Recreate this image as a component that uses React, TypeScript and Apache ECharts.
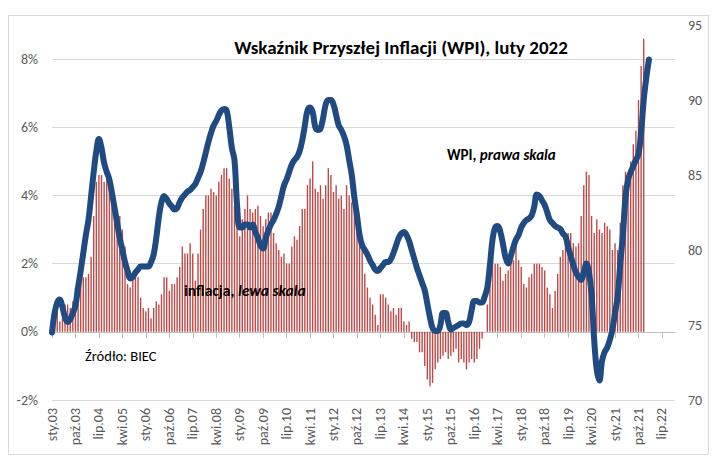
import React, { useEffect, useRef } from 'react';
import * as echarts from 'echarts';

const MONTHS = ['sty', 'lut', 'mar', 'kwi', 'maj', 'cze', 'lip', 'sie', 'wrz', 'paź', 'lis', 'gru'];
const YEARS = [2003, 2004, 2005, 2006, 2007, 2008, 2009, 2010, 2011, 2012, 2013, 2014, 2015, 2016, 2017, 2018, 2019, 2020, 2021, 2022];
const categories = YEARS.flatMap((y) => MONTHS.map((m) => `${m}.${String(y).slice(2)}`));

// CPI y/y, % (left axis), Jan 2003 – Dec 2021
const inflation = [
  0.5, 0.5, 0.6, 0.3, 0.4, 0.8, 0.8, 0.7, 0.9, 1.3, 1.6, 1.7,
  1.6, 1.6, 1.7, 2.2, 3.4, 4.4, 4.6, 4.6, 4.4, 4.5, 4.5, 4.4,
  4.0, 3.6, 3.4, 3.0, 2.5, 1.4, 1.3, 1.6, 1.8, 1.6, 1.0, 0.7,
  0.6, 0.7, 0.4, 0.7, 0.9, 0.8, 1.1, 1.6, 1.6, 1.2, 1.4, 1.4,
  1.6, 1.9, 2.5, 2.3, 2.3, 2.6, 2.3, 1.5, 2.3, 3.0, 3.6, 4.0,
  4.0, 4.2, 4.1, 4.0, 4.4, 4.6, 4.8, 4.8, 4.5, 4.2, 3.7, 3.3,
  2.8, 3.3, 3.6, 4.0, 3.6, 3.5, 3.6, 3.7, 3.4, 3.1, 3.3, 3.5,
  3.5, 2.9, 2.6, 2.4, 2.2, 2.3, 2.0, 2.0, 2.5, 2.8, 2.7, 3.1,
  3.6, 3.6, 4.3, 4.5, 5.0, 4.2, 4.1, 4.3, 3.9, 4.3, 4.8, 4.6,
  4.1, 4.3, 3.9, 4.0, 3.6, 4.3, 4.0, 3.8, 3.8, 3.4, 2.8, 2.4,
  1.7, 1.3, 1.0, 0.8, 0.5, 0.2, 1.1, 1.1, 1.0, 0.8, 0.6, 0.7,
  0.5, 0.7, 0.7, 0.3, 0.2, 0.3, -0.2, -0.3, -0.3, -0.6, -0.6, -1.0,
  -1.4, -1.6, -1.5, -1.1, -0.9, -0.8, -0.7, -0.6, -0.8, -0.7, -0.6, -0.5,
  -0.9, -0.8, -0.9, -1.1, -0.9, -0.8, -0.9, -0.8, -0.5, -0.2, 0.0, 0.8,
  1.7, 2.2, 2.0, 2.0, 1.9, 1.5, 1.7, 1.8, 2.2, 2.1, 2.5, 2.1,
  1.9, 1.4, 1.3, 1.6, 1.7, 2.0, 2.0, 2.0, 1.9, 1.8, 1.3, 1.1,
  0.7, 1.2, 1.7, 2.2, 2.4, 2.6, 2.9, 2.9, 2.6, 2.5, 2.6, 3.4,
  4.3, 4.7, 4.6, 3.4, 2.9, 3.3, 3.0, 2.9, 3.2, 3.1, 3.0, 2.4,
  2.6, 2.4, 3.2, 4.3, 4.7, 4.4, 5.0, 5.5, 5.9, 6.8, 7.8, 8.6,
];

// WPI (right axis), Jan 2003 – Feb 2022
const wpi = [
  74.5, 75.8, 76.5, 76.7, 76.2, 75.5, 75.2, 75.4, 75.8, 76.3, 77.5, 78.6,
  79.8, 81.0, 82.0, 83.6, 85.2, 86.6, 87.4, 86.8, 85.8, 85.2, 84.7, 83.8,
  82.8, 81.8, 80.8, 80.0, 79.2, 78.6, 78.1, 78.2, 78.5, 78.7, 78.9, 78.9,
  78.9, 78.9, 79.2, 79.7, 80.8, 82.2, 83.2, 83.6, 83.4, 83.1, 82.9, 82.7,
  82.8, 83.2, 83.5, 83.7, 83.9, 84.0, 84.2, 84.4, 84.8, 85.2, 85.8, 86.5,
  87.2, 87.8, 88.3, 88.6, 89.0, 89.3, 89.4, 89.3, 88.2, 86.8, 86.0, 83.0,
  81.5, 81.5, 81.7, 81.7, 81.5, 81.7, 81.2, 80.8, 80.3, 80.1, 80.8, 81.3,
  81.7, 82.0, 82.4, 82.9, 83.6, 84.3, 84.7, 85.2, 85.7, 86.0, 86.2, 86.6,
  87.3, 88.3, 89.3, 89.5, 89.2, 88.2, 88.0, 88.1, 88.8, 89.7, 90.0, 90.0,
  89.7, 89.0, 88.3, 88.0, 87.6, 87.0, 86.0, 85.0, 83.5, 82.3, 81.0, 80.3,
  80.0, 79.7, 79.3, 79.0, 78.7, 78.6, 78.8, 79.0, 79.2, 79.2, 79.4, 79.8,
  80.3, 80.8, 81.1, 81.2, 81.0, 80.6, 80.0, 79.4, 78.8, 78.3, 77.8, 77.3,
  76.4, 75.5, 74.8, 74.6, 74.6, 75.0, 75.8, 75.8, 75.2, 74.7, 74.8, 74.9,
  75.0, 75.1, 75.1, 75.0, 75.2, 76.0, 76.6, 76.6, 76.5, 76.5, 76.9, 77.5,
  79.0, 80.7, 81.5, 81.6, 81.2, 80.4, 79.5, 79.1, 79.6, 80.2, 80.7, 81.0,
  81.5, 81.8, 82.0, 82.1, 82.3, 82.9, 83.7, 83.6, 83.3, 83.0, 82.5, 82.0,
  81.8, 81.6, 81.5, 81.4, 81.1, 80.9, 80.2, 79.6, 79.0, 78.5, 78.2, 78.0,
  78.5, 79.1, 78.5, 77.0, 74.0, 72.0, 71.3, 72.6, 73.2, 73.5, 74.0, 74.7,
  75.8, 76.9, 79.1, 81.0, 83.5, 84.7, 85.2, 85.6, 86.0, 86.4, 87.8, 90.0,
  91.5, 92.7,
];

const TITLE = 'Wskaźnik Przyszłej Inflacji (WPI), luty 2022';
const FONT = 'Carlito, Calibri, Lato, sans-serif';

export default function App() {
  const ref = useRef<HTMLDivElement>(null);
  useEffect(() => {
    if (!ref.current) return;
    const chart = echarts.init(ref.current, undefined, { renderer: 'svg' });
    chart.setOption({
      animation: false,
      backgroundColor: '#ffffff',
      textStyle: { fontFamily: FONT },
      grid: { left: 52, right: 45, top: 25, bottom: 59, containLabel: false },
      xAxis: [
        {
          type: 'category',
          data: categories,
          boundaryGap: false,
          position: 'bottom',
          axisLine: { onZero: true, onZeroAxisIndex: 0, lineStyle: { color: '#bfbfbf', width: 1 } },
          axisTick: { show: true, interval: 8, length: 6, lineStyle: { color: '#bfbfbf' } },
          axisLabel: { show: false },
          splitLine: { show: false },
        },
        {
          type: 'category',
          data: categories,
          boundaryGap: false,
          position: 'bottom',
          axisLine: { show: false, onZero: false },
          axisTick: { show: false },
          axisLabel: {
            interval: 8,
            rotate: 90,
            margin: 8,
            fontSize: 14,
            color: '#595959',
            fontFamily: FONT,
            padding: [10, 0, 0, 0],
          },
          splitLine: { show: false },
        },
      ],
      yAxis: [
        {
          type: 'value',
          min: -2,
          max: 9,
          interval: 2,
          axisLine: { show: false },
          axisTick: { show: false },
          axisLabel: {
            formatter: (v: number) => `${v}%`,
            showMaxLabel: false,
            margin: 14,
            fontSize: 14,
            color: '#595959',
            fontFamily: FONT,
          },
          splitLine: { show: true, showMaxLine: false, lineStyle: { color: '#d9d9d9', width: 1 } },
        },
        {
          type: 'value',
          min: 70,
          max: 95,
          interval: 5,
          position: 'right',
          axisLine: { show: false },
          axisTick: { show: false },
          axisLabel: { margin: 13, fontSize: 14, color: '#595959', fontFamily: FONT },
          splitLine: { show: false },
        },
      ],
      series: [
        {
          name: 'inflacja',
          type: 'bar',
          xAxisIndex: 0,
          yAxisIndex: 0,
          data: inflation,
          barWidth: 1.4,
          itemStyle: { color: '#BE4A47' },
        },
        {
          name: 'WPI',
          type: 'line',
          xAxisIndex: 0,
          yAxisIndex: 1,
          data: wpi,
          smooth: 0.4,
          symbol: 'none',
          lineStyle: { color: '#1F4B82', width: 6, cap: 'round', join: 'round' },
          z: 5,
        },
      ],
      graphic: [
        {
          type: 'rect',
          shape: { x: 8.5, y: 15.5, width: 700, height: 439 },
          style: { fill: 'none', stroke: '#d9d9d9', lineWidth: 1 },
          silent: true,
          z: -1,
        },
        {
          type: 'text',
          x: 401,
          y: 47,
          style: {
            text: TITLE,
            fill: '#000',
            font: `bold 19px ${FONT}`,
            textAlign: 'center',
            textVerticalAlign: 'middle',
          },
          z: 10,
        },
        {
          type: 'text',
          x: 447,
          y: 155,
          style: {
            text: '{b|WPI, }{bi|prawa skala}',
            textVerticalAlign: 'middle',
            rich: {
              b: { fontWeight: 'bold', fontSize: 15, fontFamily: FONT, fill: '#000' },
              bi: { fontWeight: 'bold', fontStyle: 'italic', fontSize: 15, fontFamily: FONT, fill: '#000' },
            },
          },
          z: 10,
        },
        {
          type: 'text',
          x: 184,
          y: 290,
          style: {
            text: '{b|inflacja, }{bi|lewa skala}',
            textVerticalAlign: 'middle',
            rich: {
              b: { fontWeight: 'bold', fontSize: 15.5, fontFamily: FONT, fill: '#000' },
              bi: { fontWeight: 'bold', fontStyle: 'italic', fontSize: 15.5, fontFamily: FONT, fill: '#000' },
            },
          },
          z: 10,
        },
        {
          type: 'text',
          x: 85,
          y: 356,
          style: {
            text: 'Źródło: BIEC',
            fill: '#000',
            font: `14.5px ${FONT}`,
            textVerticalAlign: 'middle',
          },
          z: 10,
        },
      ],
    });
    return () => chart.dispose();
  }, []);
  return (
    <div
      ref={ref}
      style={{ position: 'fixed', left: 0, top: 0, width: 720, height: 459, background: '#fff' }}
    />
  );
}
